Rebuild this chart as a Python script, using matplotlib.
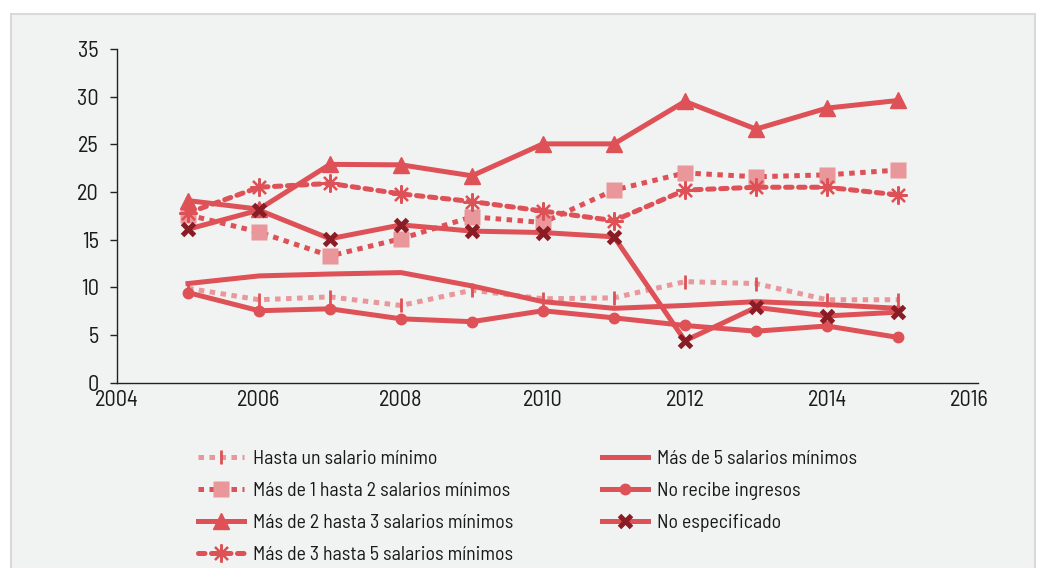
import matplotlib
matplotlib.use("Agg")
import matplotlib.pyplot as plt
from matplotlib.patches import Rectangle

plt.rcParams['font.family'] = ['Barlow Semi Condensed', 'DejaVu Sans']

years = [2005, 2006, 2007, 2008, 2009, 2010, 2011, 2012, 2013, 2014, 2015]
hasta_1 = [9.9, 8.7, 9.0, 8.1, 9.7, 8.8, 8.9, 10.6, 10.4, 8.7, 8.7]
de1_a2 = [17.6, 15.8, 13.3, 15.1, 17.4, 16.8, 20.2, 22.0, 21.6, 21.8, 22.3]
de2_a3 = [19.1, 18.2, 22.9, 22.85, 21.7, 25.05, 25.05, 29.5, 26.6, 28.8, 29.6]
de3_a5 = [17.8, 20.5, 20.9, 19.8, 19.0, 18.0, 17.0, 20.2, 20.5, 20.5, 19.7]
mas5 = [10.4, 11.2, 11.4, 11.55, 10.15, 8.5, 7.8, 8.1, 8.5, 8.2, 7.8]
no_recibe = [9.45, 7.55, 7.75, 6.7, 6.4, 7.55, 6.8, 6.0, 5.4, 5.95, 4.75]
no_espec = [16.1, 18.1, 15.1, 16.55, 15.9, 15.75, 15.3, 4.4, 7.9, 7.0, 7.4]

labels = ["Hasta un salario mínimo",
          "Más de 1 hasta 2 salarios mínimos",
          "Más de 2 hasta 3 salarios mínimos",
          "Más de 3 hasta 5 salarios mínimos",
          "Más de 5 salarios mínimos",
          "No recibe ingresos",
          "No especificado"]

RED = '#dd5157'
PINK = '#e9979b'
DARK = '#8a1c25'
BG = '#f1f2f2'

fig = plt.figure(figsize=(10.38, 5.68), dpi=100, facecolor='white')
fig.patches.append(Rectangle((11/1038, -0.01), (1035-11)/1038, (568-14)/568 + 0.01,
                             transform=fig.transFigure, facecolor=BG,
                             edgecolor='#d9d9d9', linewidth=1.5, zorder=-10))

ax = fig.add_axes([117/1038, (568-382.7)/568, (978-117)/1038, (382.7-49)/568])
ax.set_facecolor('none')
ax.set_zorder(1)

lw = 3.6
h1, = ax.plot(years, hasta_1, color=PINK, lw=lw, linestyle=(0, (1.1, 1.1)),
              marker='|', ms=10, mec=RED, mew=2.0, zorder=3)
h2, = ax.plot(years, de1_a2, color=RED, lw=lw, linestyle=(0, (1.1, 1.1)),
              marker='s', ms=11.5, mfc=PINK, mec='none', zorder=4)
h3, = ax.plot(years, de2_a3, color=RED, lw=lw, linestyle='-',
              marker='^', ms=11, mfc=RED, mec=RED, zorder=4)
h4, = ax.plot(years, de3_a5, color=RED, lw=lw, linestyle=(0, (1.3, 1.3)),
              dash_capstyle='round', marker=(8, 2, 0), ms=13, mec=RED, mew=1.6, zorder=5)
h5, = ax.plot(years, mas5, color=RED, lw=lw, linestyle='-', zorder=3)
h6, = ax.plot(years, no_recibe, color=RED, lw=lw, linestyle='-',
              marker='o', ms=7.5, mfc=RED, mec=RED, zorder=3)
h7, = ax.plot(years, no_espec, color=RED, lw=lw, linestyle='-',
              marker='x', ms=9, mec=DARK, mew=3.6, zorder=6)

ax.set_xlim(2004, 2016.127)
ax.set_ylim(0, 35)
ax.set_xticks([2004, 2006, 2008, 2010, 2012, 2014, 2016])
ax.set_yticks([0, 5, 10, 15, 20, 25, 30, 35])
for s in ['top', 'right']:
    ax.spines[s].set_visible(False)
for s in ['left', 'bottom']:
    ax.spines[s].set_color('#222222')
    ax.spines[s].set_linewidth(1.0)
ax.tick_params(axis='y', length=5, width=1, color='#222222', labelsize=16, pad=8, labelcolor='#1a1a1a')
ax.tick_params(axis='x', length=0, labelsize=16, pad=5, labelcolor='#1a1a1a')

handles = [h1, h2, h3, h4, h5, h6, h7]
leg_kw = dict(frameon=False, fontsize=14.3, handlelength=2.3, handletextpad=0.45,
              borderpad=0, borderaxespad=0, labelspacing=0.70)
leg1 = fig.legend(handles[:4], labels[:4], loc='upper left',
                  bbox_to_anchor=(198/1038, (568-450)/568), **leg_kw)
leg2 = fig.legend(handles[4:], labels[4:], loc='upper left',
                  bbox_to_anchor=(602/1038, (568-450)/568), **leg_kw)
for leg in (leg1, leg2):
    for t in leg.get_texts():
        t.set_color('#1a1a1a')

fig.savefig('out.png', dpi=100, facecolor='white')
